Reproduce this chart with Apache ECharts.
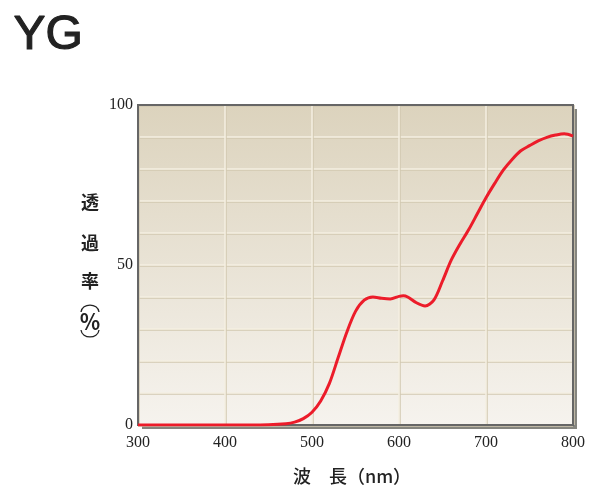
<!DOCTYPE html>
<html>
<head>
<meta charset="utf-8">
<script src="https://cdn.jsdelivr.net/npm/echarts@6/dist/echarts.min.js"></script>
<style>html,body{margin:0;padding:0;background:#fff}#c{width:600px;height:500px}</style>
</head>
<body>
<div id="c"></div>
<script>
var wavelengths = [300,350,400,450,470,480,490,500,510,520,530,540,550,560,570,580,590,600,605,610,620,630,640,650,660,670,680,690,700,710,720,730,740,750,760,770,780,790,800];
var transmittance = [0,0,0,0.1,0.4,0.9,2,4,7.5,13,21,29,35.5,39,40,39.6,39.4,40.2,40.4,40,38.2,37.2,39,45,51.5,56.5,61,66,71,75.5,79.7,83,85.7,87.3,88.8,89.9,90.6,91,90.3];
var yTickLabels = [0, 50, 100];
var xTicks = [300,400,500,600,700,800];
var titleText = 'YG';
var yNameChars = ['透','過','率','％'];
var xNameText = '波　長（nm）';

var chart = echarts.init(document.getElementById('c'));
var pts = wavelengths.map(function(w,i){return [w, transmittance[i]];});
var cjk = "'Noto Sans CJK JP','Noto Sans',sans-serif";
var yPos = [202, 243, 281, 321];
var graphics = [{
  type:'text', left:13, top:11,
  style:{text:titleText, font:"48px 'Liberation Sans', Arial, sans-serif", fill:'#222', stroke:'#222', lineWidth:1.2}
}, {
  type:'text', x:352, y:476,
  style:{text:xNameText, font:"500 18px "+cjk, fill:'#222', textAlign:'center', textVerticalAlign:'middle'}
}, {
  type:'bezierCurve', silent:true,
  shape:{x1:81, y1:312, x2:99, y2:312, cpx1:82, cpy1:302.7, cpx2:98, cpy2:302.7},
  style:{stroke:'#222', lineWidth:1.3, fill:null}
}, {
  type:'bezierCurve', silent:true,
  shape:{x1:81, y1:330, x2:99, y2:330, cpx1:82, cpy1:339.3, cpx2:98, cpy2:339.3},
  style:{stroke:'#222', lineWidth:1.3, fill:null}
}];
yNameChars.forEach(function(ch,i){
  graphics.push({type:'text', x:90, y:yPos[i],
    style:{text:ch, font:"bold "+(i===3?"21px ":"18px ")+cjk, fill:'#222', textAlign:'center', textVerticalAlign:'middle'}});
});
chart.setOption({
  animation:false,
  grid:{left:138, right:27, top:105, bottom:75, show:true,
    backgroundColor:new echarts.graphic.LinearGradient(0,0,0,1,[{offset:0,color:'#dcd3bd'},{offset:1,color:'#f6f3ee'}]),
    borderWidth:0,
    shadowColor:'#85857f', shadowBlur:0, shadowOffsetX:4, shadowOffsetY:4},
  xAxis:{type:'value', min:300, max:800, interval:100,
    axisLine:{show:false}, axisTick:{show:false},
    axisLabel:{margin:10, color:'#222', fontFamily:'Liberation Serif', fontSize:16,
      formatter:function(v){return xTicks.indexOf(v)>=0? String(v):'';}},
    splitLine:{show:true, lineStyle:{color:'#f4efe2', width:1.5, shadowColor:'#d2c8b0', shadowOffsetX:1, shadowBlur:0}}},
  yAxis:{type:'value', min:0, max:100, interval:10,
    axisLine:{show:false}, axisTick:{show:false},
    axisLabel:{margin:5, color:'#222', fontFamily:'Liberation Serif', fontSize:16,
      formatter:function(v){return yTickLabels.indexOf(v)>=0? String(v):'';}},
    splitLine:{show:true, lineStyle:{color:'#f4efe2', width:1.5, shadowColor:'#d2c8b0', shadowOffsetY:1, shadowBlur:0}}},
  series:[{type:'line', data:pts, smooth:0.3, showSymbol:false, z:5,
    lineStyle:{color:'#ec1c2a', width:3}}],
  graphic:graphics
});
var p0 = chart.convertToPixel({gridIndex:0}, [300, 100]);
var p1 = chart.convertToPixel({gridIndex:0}, [800, 0]);
graphics.push({type:'rect', z:2, silent:true,
  shape:{x:p0[0], y:p0[1], width:p1[0]-p0[0], height:p1[1]-p0[1]},
  style:{fill:null, stroke:'#666', lineWidth:2}});
chart.setOption({graphic:graphics}, {replaceMerge:['graphic']});
</script>
</body>
</html>
